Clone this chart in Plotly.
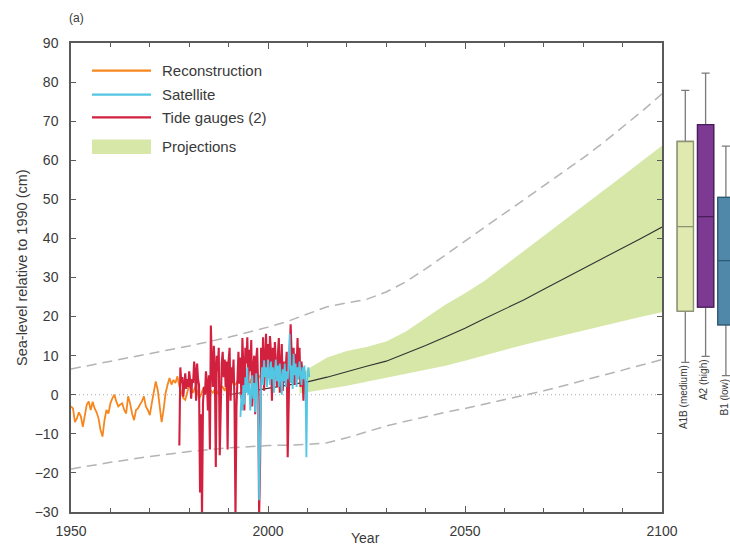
import numpy as np
import plotly.graph_objects as go

# ---------------- data ----------------
recon_start, recon_step = 1950.0, 0.5
recon_vals = [
    -3.0, -3.5, -7.0, -6.0, -4.5, -5.5, -8.2, -5.2, -2.5, -1.7,
    -3.9, -1.8, -3.5, -4.5, -6.1, -9.0, -10.7, -6.5, -3.9, -4.8,
    -2.2, -0.9, 0.0, -1.7, -3.0, -2.5, -2.2, -3.9, -4.8, -0.4,
    -2.2, -4.8, -6.5, -3.9, -3.5, -2.5, -1.7, -0.4, -3.0, -3.9,
    -5.2, -2.2, 0.8, 3.4, 1.3, -2.2, -7.0, -3.9, 0.4, 2.5,
    4.3, 2.6, 3.8, 3.0, 4.7, 2.2, 0.8, -0.9, -1.3, 1.0,
    2.5, 1.5, 0.5, 2.0, 1.0, -1.0, 0.0, 1.5, 1.0, 0.5,
    2.0, 1.0, 0.5, 1.5, 1.0, 0.0, 1.5, 2.0, 1.0, 2.5,
    3.0, 2.0, 3.5, 2.5, 3.0, 4.0, 3.0, 2.5, 3.5, 3.0,
    2.0, 3.5, 4.5, 3.0, 4.0, 5.0, 4.5, 3.5, 4.0, 5.5,
    4.5, 5.0, 4.0, 5.5, 6.0, 5.0, 6.5, 5.5, 6.0, 7.0,
    6.0, 6.5, 7.0, 6.0, 7.5, 6.5, 7.0, 7.5, 6.5,
]

tide_start, tide_step = 1977.5, 0.25
tide_vals = [
    -13.0, 7.0, 3.0, 4.5, -0.5, 2.0, 5.5, 1.5, 4.0, 2.0,
    6.0, 3.5, -1.0, 4.0, 3.0, 8.5, 6.0, -1.5, 8.0, 4.0,
    2.5, -25.0, -5.0, -31.0, -2.0, 2.0, 0.0, 6.0, 3.0, -4.0,
    5.0, -14.0, 17.7, 8.0, 2.0, 12.5, 7.0, -18.5, 10.0, 6.0,
    12.0, -15.5, 3.0, 8.0, 11.0, 4.5, 9.0, 2.0, 8.5, -14.0,
    8.8, 12.0, -1.5, 7.0, 3.0, 9.0, -2.0, -31.0, -3.0, 4.0,
    11.0, 2.8, 9.5, -1.0, 14.5, 7.0, -4.0, 12.0, 8.0, 14.7,
    3.0, 11.5, 6.0, 14.0, -3.0, 7.0, 10.0, -5.0, 9.0, 12.0,
    2.0, -31.0, -17.0, 12.0, 4.0, 14.7, 1.0, 9.0, 15.6, 3.0,
    13.0, 6.0, 15.0, 11.0, -1.5, 12.0, 3.0, 13.5, 7.0, 2.0,
    10.0, 14.5, 0.5, 9.0, 13.0, 1.0, 8.5, 3.0, 7.0, 11.0,
    -16.0, 5.0, 11.0, 18.0, 9.5, 3.0, 12.0, 2.5, 10.5, 6.0,
    14.5, 4.0, 12.0, 2.0, 8.5, 5.0, -1.5, 6.0,
]

sat_start, sat_step = 1993.0, 0.25
sat_vals = [
    -5.7, 0.0, -4.0, 2.5, -2.5, 4.5, 0.5, 7.0, 0.0, 3.0,
    -4.0, 2.0, 5.0, -1.0, 3.0, -4.5, 5.5, 2.0, -3.0, -27.0,
    -10.0, 3.0, 7.0, 2.5, 8.8, 4.5, 7.0, 2.0, 9.0, 5.0,
    2.5, 8.5, 4.0, 7.0, 0.5, 6.0, 9.0, 3.5, 7.5, 2.0,
    8.0, 4.5, 0.0, 6.5, 3.5, 8.0, 2.0, 6.0, 4.0, 8.0,
    15.6, 3.0, 7.5, 1.5, 10.5, 5.0, 8.0, 2.0, 7.0, 4.0,
    8.5, 5.5, 2.5, 7.0, 4.0, 7.5, 3.0, -16.0, 5.0, 7.0,
    4.5,
]

proj_years = [1990, 1995, 2000, 2005, 2010, 2015, 2020, 2025, 2030, 2035, 2040, 2045,
              2050, 2055, 2060, 2065, 2070, 2075, 2080, 2085, 2090, 2095, 2100]
proj_mean = [0.0, 0.8, 1.6, 2.4, 3.3, 4.5, 6.0, 7.3, 8.6, 10.5, 12.6, 14.8,
             17.0, 19.5, 21.8, 24.3, 27.0, 29.6, 32.2, 34.9, 37.6, 40.2, 42.9]

band_years = [2008, 2010, 2015, 2020, 2025, 2030, 2035, 2040, 2045, 2050, 2055,
              2060, 2065, 2070, 2075, 2080, 2085, 2090, 2095, 2100]
band_low = [0.3, 0.6, 1.5, 2.3, 3.3, 4.3, 5.3, 6.3, 7.4, 8.7, 10.1,
            11.5, 12.8, 14.0, 15.2, 16.5, 17.6, 18.8, 20.0, 21.1]
band_high = [5.0, 6.5, 9.5, 11.2, 12.2, 13.6, 16.2, 19.5, 23.0, 26.0, 29.2,
             33.0, 36.8, 40.7, 44.5, 48.4, 52.2, 56.0, 59.9, 63.7]

dash_years = [1950, 1960, 1970, 1980, 1990, 2000, 2005, 2010, 2015, 2020, 2025, 2030, 2035,
              2040, 2045, 2050, 2055, 2060, 2065, 2070, 2075, 2080, 2085, 2090, 2095, 2100]
dash_upper = [6.6, 8.6, 10.5, 12.5, 14.7, 17.3, 18.8, 20.6, 22.5, 23.5, 24.4, 26.3, 28.9,
              32.2, 35.8, 39.4, 42.9, 46.4, 49.9, 53.4, 57.0, 60.6, 64.4, 68.4, 72.6, 77.0]
dash_lower = [-19.0, -17.3, -15.8, -14.5, -13.6, -13.0, -12.9, -12.7, -12.3, -11.0, -9.5, -8.0, -6.8,
              -5.6, -4.5, -3.5, -2.4, -1.3, -0.2, 1.0, 2.3, 3.7, 5.0, 6.3, 7.6, 9.0]

scenarios = ["A1B (medium)", "A2 (high)", "B1 (low)"]
box_lowfence = [8.3, 9.8, 4.9]
box_q1 = [21.4, 22.4, 17.9]
box_median = [43.0, 45.6, 34.3]
box_q3 = [64.8, 69.1, 50.5]
box_upfence = [77.9, 82.3, 63.6]

x_ticks = [1950, 2000, 2050, 2100]
legend_labels = ["Reconstruction", "Satellite", "Tide gauges (2)", "Projections"]

# ---------------- styles ----------------
C_ORANGE = "#f7861e"
C_CYAN = "#52c6e2"
C_RED = "#d2203f"
C_GREEN = "rgb(214,231,168)"
C_DASH = "#b4b4b4"
C_AXIS = "#5a5a5a"
C_TEXT = "#3a3a3a"
C_WHISK = "#7a7a7a"
FONT = "Liberation Sans, Arial, sans-serif"
box_fill = ["#dfe9b0", "#7c3a92", "#4f88a8"]
box_line = ["#8d9470", "#4a1d5a", "#2d5a73"]

def series_x(start, step, vals):
    return start + step * np.arange(len(vals))

fig = go.Figure()

# zero reference (dotted)
fig.add_shape(type="line", xref="x domain", yref="y", x0=0, x1=1, y0=0, y1=0,
              line=dict(color="#a8a8a8", width=1, dash="1px,3px"), layer="below")

# projection band
fig.add_trace(go.Scatter(x=band_years, y=band_low, mode="lines", line=dict(width=0),
                         hoverinfo="skip", showlegend=False))
fig.add_trace(go.Scatter(x=band_years, y=band_high, mode="lines", line=dict(width=0),
                         fill="tonexty", fillcolor=C_GREEN, hoverinfo="skip", showlegend=False))

# dashed envelopes
for yv in (dash_upper, dash_lower):
    fig.add_trace(go.Scatter(x=dash_years, y=yv, mode="lines",
                             line=dict(color=C_DASH, width=1.5, dash="10px,6px"),
                             hoverinfo="skip", showlegend=False))

# projection mean
fig.add_trace(go.Scatter(x=proj_years, y=proj_mean, mode="lines",
                         line=dict(color="#333333", width=1.1), showlegend=False))

# observations
fig.add_trace(go.Scatter(x=series_x(recon_start, recon_step, recon_vals), y=recon_vals,
                         mode="lines", line=dict(color=C_ORANGE, width=1.8), showlegend=False))
fig.add_trace(go.Scatter(x=series_x(tide_start, tide_step, tide_vals), y=tide_vals,
                         mode="lines", line=dict(color=C_RED, width=2.1), showlegend=False))
fig.add_trace(go.Scatter(x=series_x(sat_start, sat_step, sat_vals), y=sat_vals,
                         mode="lines", line=dict(color=C_CYAN, width=1.8), showlegend=False))

# scenario boxes: grey whiskers, coloured box outline + median
for i, name in enumerate(scenarios):
    fig.add_trace(go.Box(
        x=[i], q1=[box_q1[i]], median=[box_median[i]], q3=[box_q3[i]],
        lowerfence=[box_lowfence[i]], upperfence=[box_upfence[i]],
        xaxis="x2", yaxis="y2", width=0.8, whiskerwidth=0.5,
        fillcolor=box_fill[i], line=dict(color=C_WHISK, width=1.3),
        boxpoints=False, name=name, showlegend=False, hoverinfo="skip"))
    fig.add_trace(go.Box(
        x=[i], q1=[box_q1[i]], median=[box_median[i]], q3=[box_q3[i]],
        lowerfence=[box_q1[i]], upperfence=[box_q3[i]],
        xaxis="x2", yaxis="y2", width=0.8, whiskerwidth=0,
        fillcolor=box_fill[i], line=dict(color=box_line[i], width=1.3),
        boxpoints=False, name=name, showlegend=False, hoverinfo="skip"))
    fig.add_annotation(x=i, y=box_lowfence[i], xref="x2", yref="y2", text=name,
                       textangle=-90, xanchor="center", yanchor="top", yshift=-1,
                       xshift=-1.5, showarrow=False,
                       font=dict(size=10, color=C_TEXT, family=FONT))

# custom legend
PW, PH, L, T = 659, 469, 71, 43
def px(xp):
    return (xp - L) / PW
def py(yp):
    return (T + PH - yp) / PH

leg_rows = [70.7, 94.7, 117.3, 146.5]
leg_cols = [C_ORANGE, C_CYAN, C_RED]
for k in range(3):
    fig.add_shape(type="line", xref="paper", yref="paper", x0=px(92), x1=px(151),
                  y0=py(leg_rows[k]), y1=py(leg_rows[k]),
                  line=dict(color=leg_cols[k], width=2.2))
fig.add_shape(type="rect", xref="paper", yref="paper", x0=px(92), x1=px(151),
              y0=py(139.5), y1=py(154), fillcolor=C_GREEN, line=dict(width=0))
for k, lab in enumerate(legend_labels):
    fig.add_annotation(x=px(160), y=py(leg_rows[k]), xref="paper", yref="paper", text=lab,
                       xanchor="left", yanchor="middle", showarrow=False,
                       font=dict(size=15, color=C_TEXT, family=FONT))

# titles
fig.add_annotation(x=px(22), y=py(268), xref="paper", yref="paper",
                   text="Sea-level relative to 1990 (cm)", textangle=-90,
                   xanchor="center", yanchor="middle", showarrow=False,
                   font=dict(size=14.5, color=C_TEXT, family=FONT))
fig.add_annotation(x=px(365), y=py(528), xref="paper", yref="paper", text="Year",
                   xanchor="center", yanchor="top", showarrow=False,
                   font=dict(size=14, color=C_TEXT, family=FONT))
fig.add_annotation(x=px(67), y=py(18), xref="paper", yref="paper", text="(a)",
                   xanchor="left", yanchor="middle", showarrow=False,
                   font=dict(size=12, color=C_TEXT, family=FONT))

main_dom_end = (662 - L) / PW
box_dom_start = (670 - L) / PW
fig.update_layout(
    width=730, height=545, autosize=False,
    margin=dict(l=L, r=0, t=T, b=545 - T - PH, pad=0, autoexpand=False),
    paper_bgcolor="white", plot_bgcolor="white",
    font=dict(family=FONT, color=C_TEXT),
    showlegend=False, boxmode="overlay",
    xaxis=dict(domain=[0, main_dom_end], range=[1950, 2100], tickvals=x_ticks,
               ticks="inside", ticklen=6, tickwidth=1.3, tickcolor=C_AXIS,
               minor=dict(dtick=10, tick0=1950, ticks="inside", ticklen=4,
                          tickcolor=C_AXIS, tickwidth=1, showgrid=False),
               showline=True, linecolor=C_AXIS, linewidth=1.5, mirror="ticks",
               showgrid=False, zeroline=False, ticklabelstandoff=5, automargin=False,
               tickfont=dict(size=14, color=C_TEXT)),
    yaxis=dict(range=[-30, 90], dtick=10, ticks="inside", ticklen=5, tickwidth=1.2,
               tickcolor=C_AXIS, showline=True, linecolor=C_AXIS, linewidth=1.5,
               mirror="ticks", showgrid=False, zeroline=False, ticklabelstandoff=8,
               automargin=False, tickfont=dict(size=14, color=C_TEXT)),
    xaxis2=dict(domain=[box_dom_start, 1], range=[-0.754, 2.202], visible=False,
                anchor="y2", automargin=False),
    yaxis2=dict(range=[-30, 90], visible=False, anchor="x2", automargin=False),
)

fig.write_html("out.html",
               config={"responsive": False, "displayModeBar": False},
               post_script="document.body.style.margin='0';document.body.style.overflow='hidden';")
